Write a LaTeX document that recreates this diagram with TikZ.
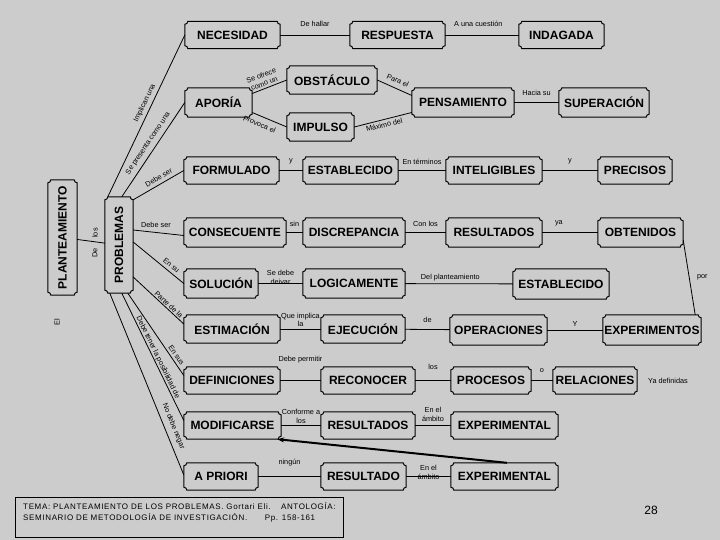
\documentclass[tikz,border=0pt]{standalone}
\usepackage{fontspec}
\setmainfont{Liberation Sans}
\usetikzlibrary{arrows.meta}
\definecolor{bgc}{RGB}{204,204,204}
\begin{document}
\begin{tikzpicture}[x=1pt,y=-1pt,
  box/.style={rectangle, fill=bgc, inner sep=0pt, minimum height=27pt,
     font=\bfseries\fontsize{12}{13}\selectfont},
  boxline/.style={draw=black, line width=1pt},
  conn/.style={draw, line width=0.8pt},
  lbl/.style={font=\fontsize{7.3}{8.3}\selectfont, inner sep=0.5pt, align=center},
]
\fill[bgc] (0,0) rectangle (720,540);
\useasboundingbox (0,0) rectangle (720,540);

% boxes
\node[box, minimum width=95pt] (nec) at (232.5,35) {NECESIDAD};
\node[box, minimum width=95pt] (resp) at (397.5,35) {RESPUESTA};
\node[box, minimum width=85pt] (indag) at (561.5,35) {INDAGADA};
\node[box, minimum width=90pt, minimum height=28pt] (obs) at (332,80) {OBSTÁCULO};
\node[box, minimum width=67pt, minimum height=29pt] (apo) at (218.5,102.5) {APORÍA};
\node[box, minimum width=67pt, minimum height=28pt] (imp) at (320.5,127) {IMPULSO};
\node[box, minimum width=102pt, minimum height=29pt] (pens) at (463,102.5) {PENSAMIENTO};
\node[box, minimum width=90pt, minimum height=29pt] (sup) at (604,102.5) {SUPERACIÓN};
\node[box, minimum width=95pt] (form) at (231.5,170.5) {FORMULADO};
\node[box, minimum width=95pt] (est1) at (350.5,170.5) {ESTABLECIDO};
\node[box, minimum width=96pt] (intel) at (494,170.5) {INTELIGIBLES};
\node[box, minimum width=74pt] (prec) at (635,170.5) {PRECISOS};
\node[box, minimum width=102pt, minimum height=29pt] (cons) at (235,232.5) {CONSECUENTE};
\node[box, minimum width=102pt, minimum height=29pt] (disc) at (354,232.5) {DISCREPANCIA};
\node[box, minimum width=96pt, minimum height=29pt] (res1) at (494,232.5) {RESULTADOS};
\node[box, minimum width=85pt, minimum height=29pt] (obt) at (640.5,232.5) {OBTENIDOS};
\node[box, minimum width=74pt, minimum height=29pt] (sol) at (221,283.5) {SOLUCIÓN};
\node[box, minimum width=102pt, minimum height=29pt] (logic) at (354,283.5) {LOGICAMENTE};
\node[box, minimum width=96pt, minimum height=30pt] (est2) at (561,284) {ESTABLECIDO};
\node[box, minimum width=96pt, minimum height=28pt] (estim) at (232,329) {ESTIMACIÓN};
\node[box, minimum width=84pt, minimum height=28pt] (ejec) at (363,329) {EJECUCIÓN};
\node[box, minimum width=97pt, minimum height=30pt] (oper) at (498.5,330) {OPERACIONES};
\node[box, minimum width=98pt, minimum height=30pt] (exps) at (652,330) {EXPERIMENTOS};
\node[box, minimum width=96pt] (def) at (232,380.5) {DEFINICIONES};
\node[box, minimum width=94pt] (recon) at (368,380.5) {RECONOCER};
\node[box, minimum width=80pt] (proc) at (491,380.5) {PROCESOS};
\node[box, minimum width=84pt] (relac) at (595,380.5) {RELACIONES};
\node[box, minimum width=97pt] (mod) at (232.5,425.5) {MODIFICARSE};
\node[box, minimum width=94pt] (res2) at (368,425.5) {RESULTADOS};
\node[box, minimum width=107pt] (expl1) at (504.5,425.5) {EXPERIMENTAL};
\node[box, minimum width=74pt] (apr) at (221,476.5) {A PRIORI};
\node[box, minimum width=85pt] (resul) at (363.5,476.5) {RESULTADO};
\node[box, minimum width=107pt] (expl2) at (504.5,476.5) {EXPERIMENTAL};
\node[box, minimum width=29pt, minimum height=115pt] (plan) at (62.5,237.5) {\rotatebox{90}{PLANTEAMIENTO}};
\node[box, minimum width=28pt, minimum height=96pt] (prob) at (119,245) {\rotatebox{90}{PROBLEMAS}};

% notched borders
\foreach \n in {nec,resp,indag,obs,apo,imp,pens,sup,form,est1,intel,prec,cons,disc,res1,obt,sol,logic,est2,estim,ejec,oper,exps,def,recon,proc,relac,mod,res2,expl1,apr,resul,expl2,plan,prob}{
  \draw[boxline] ([xshift=3pt]\n.north west) -- ([xshift=-3pt]\n.north east)
       arc[start angle=180, end angle=270, radius=3pt]
       -- ([yshift=3pt]\n.south east)
       arc[start angle=90, end angle=180, radius=3pt]
       -- ([xshift=3pt]\n.south west)
       arc[start angle=0, end angle=90, radius=3pt]
       -- ([yshift=-3pt]\n.north west)
       arc[start angle=270, end angle=360, radius=3pt] -- cycle;
}

% top connectors
\draw[conn] (nec) -- node[lbl, above=8pt] (l1) {De hallar} (resp);
\draw[conn] (resp) -- node[lbl, above=8pt, pos=0.45] (l2) {A una cuestión} (indag);
\draw[conn] ([yshift=9pt]apo.east) -- node[lbl, sloped, above=1.5pt, pos=0.4] (l3) {Se ofrece\\como un} (obs.west);
\draw[conn] ([yshift=-10pt]apo.east) -- node[lbl, sloped, below=4.5pt, pos=0.3] (l4) {Provoca el} (imp.west);
\draw[conn] (obs.east) -- node[lbl, sloped, above=4.5pt] (l5) {Para el} ([yshift=7pt]pens.west);
\draw[conn] (imp.east) -- node[lbl, sloped, below=1.5pt] (l6) {Máximo del} ([yshift=-10pt]pens.west);
\draw[conn] (pens) -- node[lbl, above=6pt] (l7) {Hacia su} (sup);

% PROBLEMAS connectors
\draw[conn] (plan) -- (prob);
\draw[conn] ([xshift=3pt]prob.north west) -- node[lbl, sloped, above=2.5pt, pos=0.56] (l8) {Implican una} (nec.west);
\draw[conn] ([xshift=17pt]prob.north west) -- node[lbl, sloped, above=3.5pt, pos=0.52] (l9) {Se presenta como una} (apo.west);
\draw[conn] ([yshift=-3pt]prob.north east) -- node[lbl, sloped, above=3pt, pos=0.57] (l10) {Debe ser} (form.west);
\draw[conn] ([yshift=15pt]prob.east) -- node[lbl, above=4.5pt, pos=0.45] (l11) {Debe ser} ([yshift=-3pt]cons.west);
\draw[conn] ([yshift=3pt]prob.east) -- node[lbl, sloped, above=2.5pt, pos=0.68] (l12) {En su} (sol.west);
\draw[conn] ([yshift=-32pt]prob.east) -- node[lbl, sloped, above=0.5pt, pos=0.65] (l13) {Parte de la} ([yshift=5pt]estim.west);
\draw[conn] ([xshift=23pt]prob.south west) -- node[lbl, sloped, above=2pt, pos=0.79] (l14) {En sus} ([yshift=5pt]def.west);
\draw[conn] ([xshift=17pt]prob.south west) -- node[lbl, sloped, above=0pt, pos=0.52] (l15) {Debe tener la posibilidad de} ([yshift=5pt]mod.west);
\draw[conn] ([xshift=5pt]prob.south west) -- node[lbl, sloped, above=4.5pt, pos=0.75] (l16) {No debe negar} ([yshift=1.5pt]apr.west);

% rows
\draw[conn] (form) -- node[lbl, above=5.5pt] (l17) {y} (est1);
\draw[conn] (est1) -- node[lbl, above=5.5pt] (l18) {En términos} (intel);
\draw[conn] (intel) -- node[lbl, above=5.5pt] (l19) {y} (prec);
\draw[conn] (cons) -- node[lbl, above=5.5pt] (l20) {sin} (disc);
\draw[conn] (disc) -- node[lbl, above=5.5pt] (l21) {Con los} (res1);
\draw[conn] (res1) -- node[lbl, above=5.5pt, pos=0.3] (l22) {ya} (obt);
\draw[conn] (sol) -- node[lbl, above=-1.5pt] (l23) {Se debe\\deivar} (logic);
\draw[conn] (logic) -- node[lbl, above=1.5pt, pos=0.42] (l24) {Del planteamiento} (est2);
\draw[conn] (estim) -- node[lbl, above=1.5pt] (l25) {Que implica\\la} (ejec);
\draw[conn] (ejec) -- node[lbl, above=6.5pt] (l26) {de} (oper);
\draw[conn] (oper) -- node[lbl, above=2.5pt] (l27) {Y} (exps);
\draw[conn] (def) -- node[lbl, above=16.5pt] (l28) {Debe permitir} (recon);
\draw[conn] (recon) -- node[lbl, above=10.5pt] (l29) {los} (proc);
\draw[conn] (proc) -- node[lbl, above=7.5pt] (l30) {o} (relac);
\draw[conn] (mod) -- node[lbl, above=1.5pt] (l31) {Conforme a\\los} (res2);
\draw[conn] (res2) -- node[lbl, above=3.5pt] (l32) {En el\\ámbito} (expl1);
\draw[conn] (apr) -- node[lbl, above=9.5pt] (l33) {ningún} (resul);
\draw[conn] (resul) -- node[lbl, above=-3.5pt] (l34) {En el\\ámbito} (expl2);
\draw[conn] ([yshift=-7.5pt]obt.east) -- node[lbl, right=7pt, pos=0.5] (l35) {por} ([xshift=-6pt]exps.north east);
\draw[line width=2pt, -{Stealth[length=7pt,width=5pt]}] ([xshift=56pt]expl2.north west) -- ([xshift=-4pt]mod.south east);

% free texts
\node[lbl] (yadef) at (668,381) {Ya definidas};
\node[lbl, rotate=90] (el) at (57,322) {El};
\node[lbl, rotate=90] (los) at (95,233) {los};
\node[lbl, rotate=90] (de) at (95,253) {De};

\node[draw, line width=0.8pt, anchor=north west, minimum width=328pt, minimum height=40pt,
  inner xsep=6pt, inner ysep=3.5pt, align=left,
  font=\fontsize{8}{11}\selectfont\addfontfeatures{LetterSpace=8}] (ref) at (15,497)
  {TEMA: PLANTEAMIENTO DE LOS PROBLEMAS. Gortari Eli.\hspace{1.3em}ANTOLOGÍA:\\SEMINARIO DE METODOLOGÍA DE INVESTIGACIÓN.\hspace{2.2em}Pp. 158-161\\\mbox{}};
\node[font=\fontsize{12}{14}\selectfont] (page) at (651,510) {28};
\end{tikzpicture}
\end{document}
